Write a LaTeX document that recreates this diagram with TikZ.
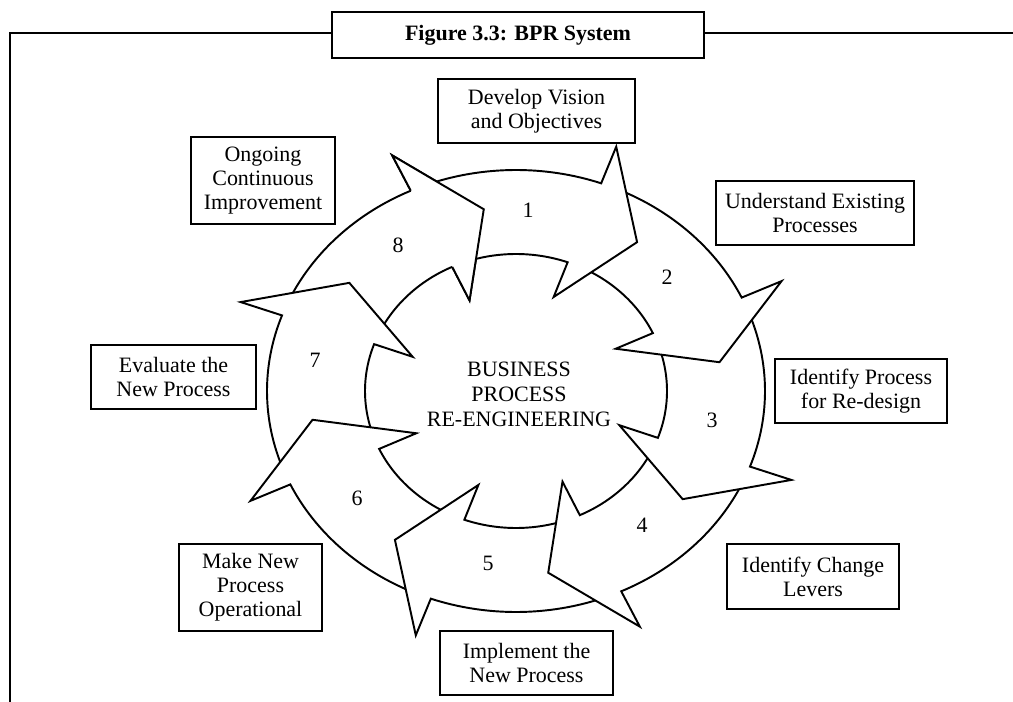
\documentclass[tikz,border=0pt]{standalone}
\usepackage{fontspec}
\setmainfont{Liberation Serif}

\begin{document}
\begin{tikzpicture}[x=0.02cm,y=-0.02cm,line width=1.1pt,
    box node/.style={draw,fill=white,align=center,inner sep=0pt,font=\fontsize{12.5}{13.6}\selectfont},
    num node/.style={font=\fontsize{12.5}{14}\selectfont},
    ring arrow/.style={fill=white,draw,line width=1.1pt}]
                \useasboundingbox (0,0) rectangle (1013,702);

                \draw[line width=1.4pt] (10,702) |- (1013,33);
                \node[box node,line width=1.4pt,minimum width=7.44cm,minimum height=0.92cm,font=\fontsize{12.5}{14}\selectfont\bfseries] (title) at (518,35) {Figure 3.3: BPR System};

                \begin{scope}[shift={(516,391)}]
                    \foreach \k in {8,7,...,1} {
                        \pgfmathsetmacro\t{306+45*(\k-1)}
                        \pgfmathsetmacro\tb{\t-16}
                        \pgfmathsetmacro\ts{\t-57}
                        \filldraw[ring arrow] (\ts:249 and 221) arc[start angle=\ts, end angle=\tb, x radius=249, y radius=221]
                            -- (\tb:293 and 260) -- (\t:206 and 184) -- (\tb:110 and 100) -- (\tb:151 and 137)
                            arc[start angle=\tb, end angle=\ts, x radius=151, y radius=137];
                    }
                    \pgfmathsetmacro\t{306+45*7}
                    \pgfmathsetmacro\tb{\t-16}
                    \fill[white] (\tb:249 and 221) -- (\tb:293 and 260) -- (\t:206 and 184) -- (\tb:110 and 100) -- (\tb:151 and 137) -- cycle;
                    \draw (\tb:249 and 221) -- (\tb:293 and 260) -- (\t:206 and 184) -- (\tb:110 and 100) -- (\tb:151 and 137);
                \end{scope}

                \foreach \n/\x/\y in {1/528/210, 2/667/277, 3/712/420, 4/642/525, 5/488/563, 6/357/498, 7/315/360, 8/398/245}
                    \node[num node] (n\n) at (\x,\y) {\n};

                \node[align=center,font=\fontsize{12.5}{14.2}\selectfont] (bpr) at (519,394) {BUSINESS\\PROCESS\\RE-ENGINEERING};

                \node[box node,minimum width=3.94cm,minimum height=1.28cm] (develop) at (536.5,111) {Develop Vision\\and Objectives};
                \node[box node,minimum width=3.96cm,minimum height=1.28cm] (understand) at (815,213) {Understand Existing\\Processes};
                \node[box node,minimum width=3.44cm,minimum height=1.28cm] (redesign) at (861,391) {Identify Process\\for Re-design};
                \node[box node,minimum width=3.44cm,minimum height=1.30cm] (levers) at (813,576.5) {Identify Change\\Levers};
                \node[box node,minimum width=3.46cm,minimum height=1.28cm] (implement) at (526.5,663) {Implement the\\New Process};
                \node[box node,minimum width=2.86cm,minimum height=1.74cm] (operational) at (250.5,587.5) {Make New\\Process\\Operational};
                \node[box node,minimum width=3.30cm,minimum height=1.28cm] (evaluate) at (173.5,377) {Evaluate the\\New Process};
                \node[box node,minimum width=2.88cm,minimum height=1.74cm] (ongoing) at (263,180.5) {Ongoing\\Continuous\\Improvement};

            \end{tikzpicture}
\end{document}
